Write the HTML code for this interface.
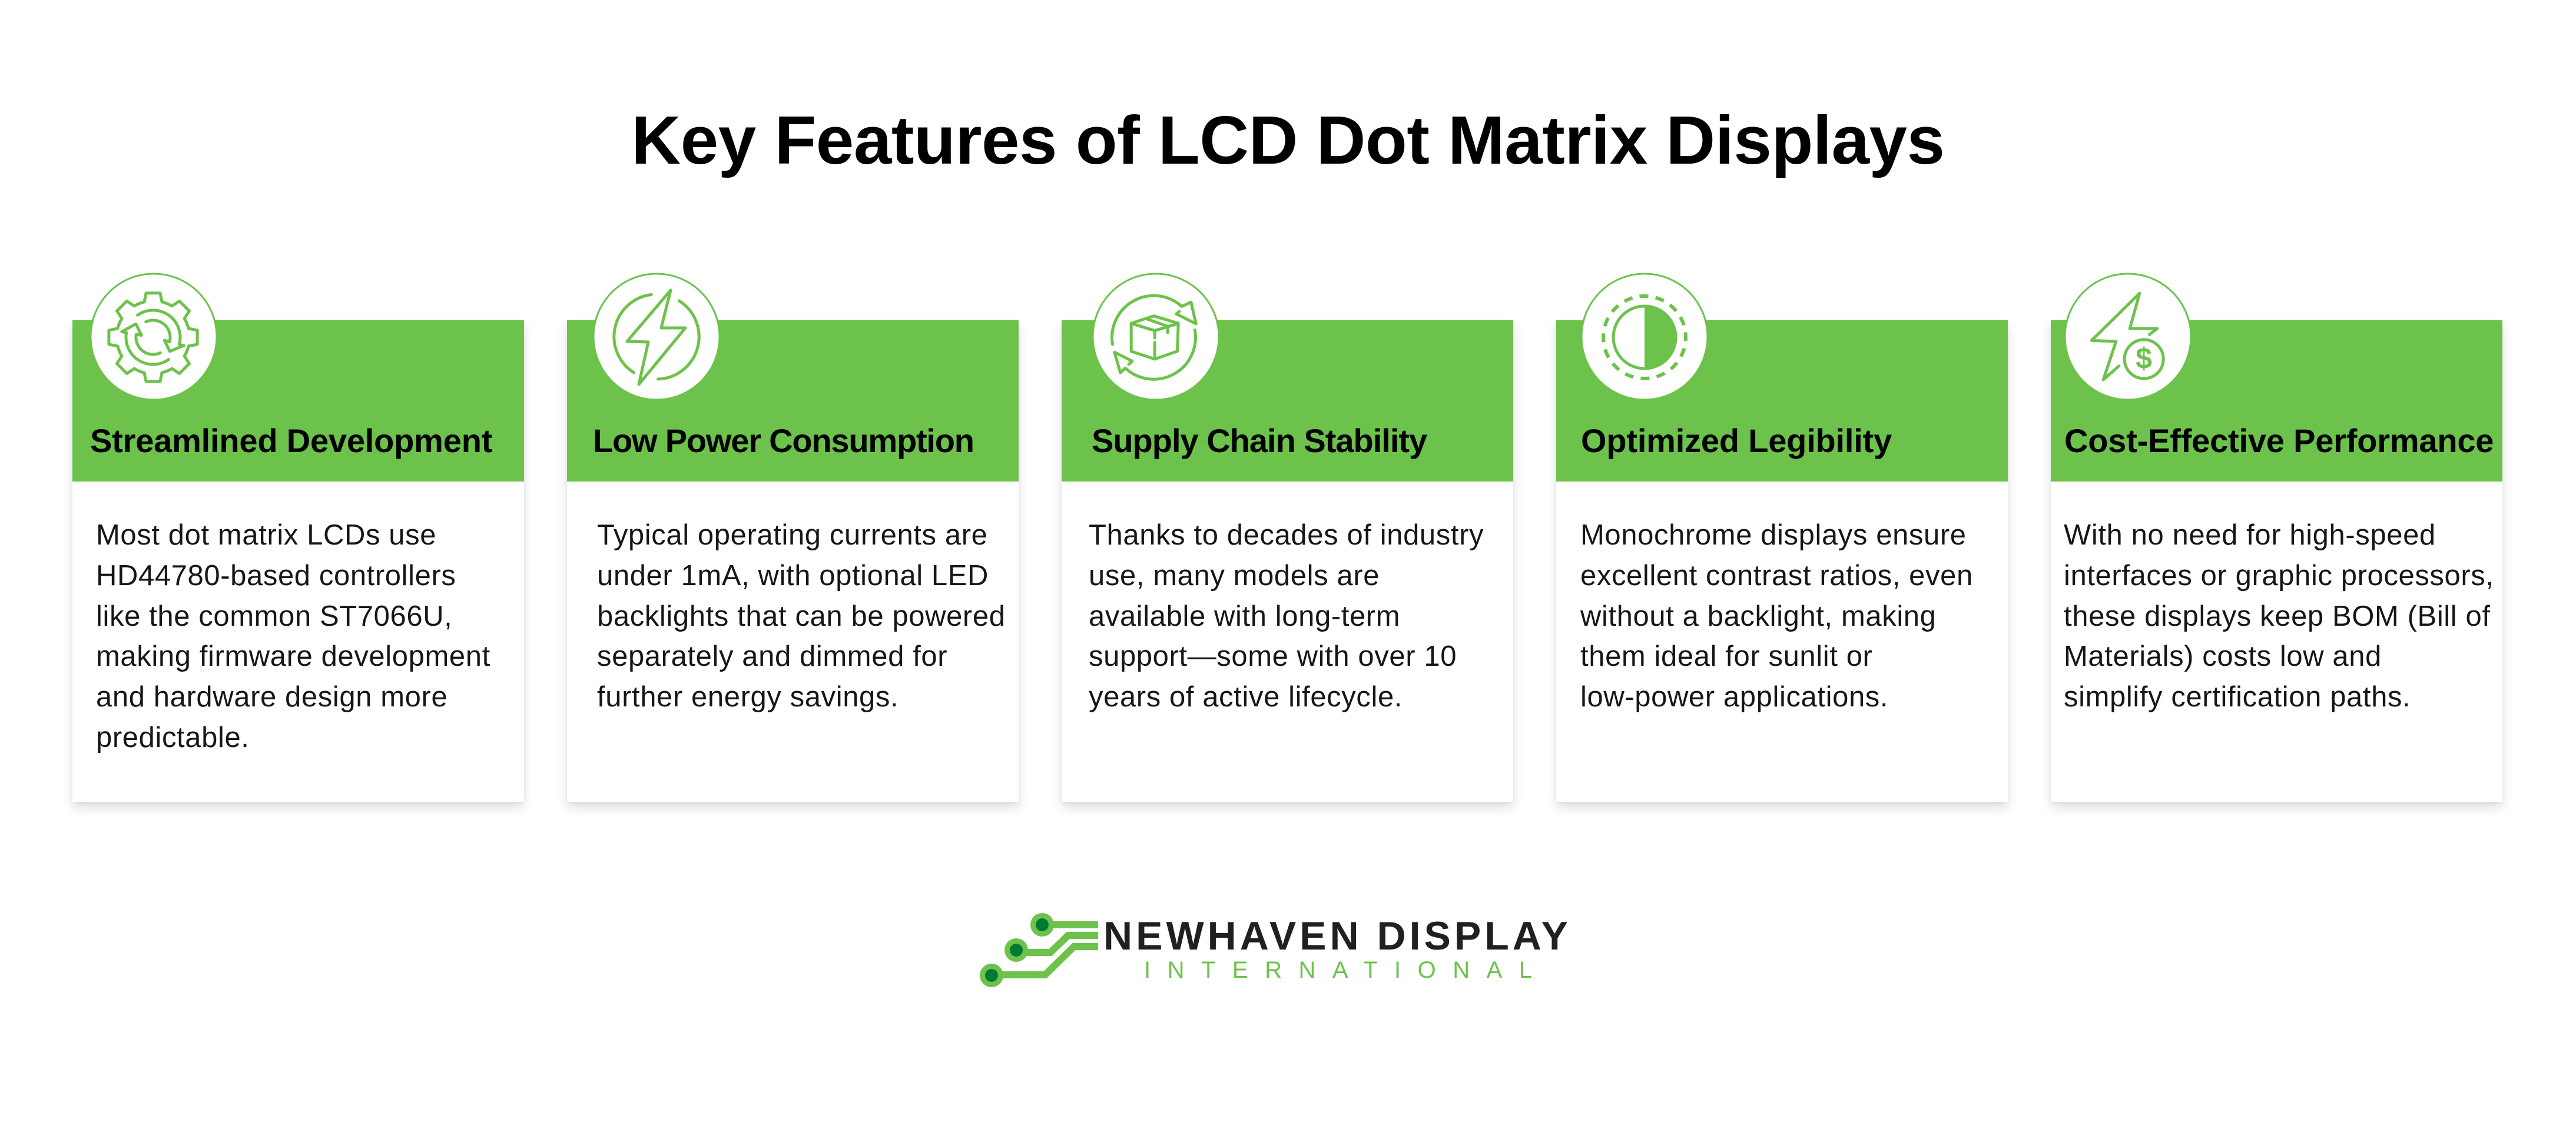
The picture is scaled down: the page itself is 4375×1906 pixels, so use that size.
<!DOCTYPE html>
<html>
<head>
<meta charset="utf-8">
<style>
  html,body{margin:0;padding:0;background:#ffffff;}
  body{width:4375px;height:1906px;position:relative;overflow:hidden;font-family:"Liberation Sans",Arial,sans-serif;}
  .abs{position:absolute;white-space:nowrap;}
  .title{left:0;top:180px;width:4375px;text-align:center;font-size:116px;line-height:116px;font-weight:bold;color:#000;letter-spacing:-0.5px;}
  .card{position:absolute;top:544px;width:767px;height:818px;background:#fff;box-shadow:0 10px 18px rgba(0,0,0,0.13),0 2px 5px rgba(0,0,0,0.05);}
  .band{position:absolute;left:0;top:0;width:767px;height:274px;background:#6dc24b;}
  .h{top:721px;font-size:56px;line-height:56px;font-weight:bold;color:#000;letter-spacing:-0.2px;}
  .b{top:875px;font-size:49px;line-height:68.75px;color:#161616;letter-spacing:0.6px;}
  .logo1{left:1874px;top:1556px;font-size:68px;line-height:68px;font-weight:bold;color:#231f20;letter-spacing:6px;}
  .logo2{left:1943px;top:1628px;font-size:40px;line-height:40px;color:#6dc24b;letter-spacing:28.5px;}
  svg.ov{position:absolute;left:0;top:0;z-index:5;}
  .txt{z-index:6;}
</style>
</head>
<body>

<div class="abs title txt">Key Features of LCD Dot Matrix Displays</div>

<div class="card" style="left:123px;"><div class="band"></div></div>
<div class="card" style="left:963px;"><div class="band"></div></div>
<div class="card" style="left:1803px;"><div class="band"></div></div>
<div class="card" style="left:2643px;"><div class="band"></div></div>
<div class="card" style="left:3483px;"><div class="band"></div></div>

<div class="abs h txt" style="left:153px;">Streamlined Development</div>
<div class="abs h txt" style="left:1007px;letter-spacing:-1.2px;">Low Power Consumption</div>
<div class="abs h txt" style="left:1854px;letter-spacing:-1px;">Supply Chain Stability</div>
<div class="abs h txt" style="left:2685px;">Optimized Legibility</div>
<div class="abs h txt" style="left:3506px;">Cost-Effective Performance</div>

<div class="abs b txt" style="left:163px;">Most dot matrix LCDs use<br>HD44780-based controllers<br>like the common ST7066U,<br>making firmware development<br>and hardware design more<br>predictable.</div>
<div class="abs b txt" style="left:1014px;">Typical operating currents are<br>under 1mA, with optional LED<br>backlights that can be powered<br>separately and dimmed for<br>further energy savings.</div>
<div class="abs b txt" style="left:1849px;">Thanks to decades of industry<br>use, many models are<br>available with long-term<br>support—some with over 10<br>years of active lifecycle.</div>
<div class="abs b txt" style="left:2684px;">Monochrome displays ensure<br>excellent contrast ratios, even<br>without a backlight, making<br>them ideal for sunlit or<br>low-power applications.</div>
<div class="abs b txt" style="left:3505px;">With no need for high-speed<br>interfaces or graphic processors,<br>these displays keep BOM (Bill of<br>Materials) costs low and<br>simplify certification paths.</div>

<div class="abs logo1 txt">NEWHAVEN DISPLAY</div>
<div class="abs logo2 txt">INTERNATIONAL</div>

<svg class="ov" width="4375" height="1906" viewBox="0 0 4375 1906" xmlns="http://www.w3.org/2000/svg">
  <g fill="#ffffff" stroke="#6dc24b" stroke-width="3">
    <circle cx="261" cy="572" r="107"/>
    <circle cx="1115" cy="572" r="107"/>
    <circle cx="1963" cy="572" r="107"/>
    <circle cx="2793" cy="572" r="107"/>
    <circle cx="3614" cy="572" r="107"/>
  </g>

  <g transform="translate(260,573)" fill="none" stroke="#6dc24b" stroke-width="5" stroke-linecap="round" stroke-linejoin="round">
    <path d="M -15 -60.2 L -11.9 -75.1 L 11.9 -75.1 L 15 -60.2 A 62 62 0 0 1 31.9 -53.1"/>
    <path transform="rotate(45)" d="M -15 -60.2 L -11.9 -75.1 L 11.9 -75.1 L 15 -60.2 A 62 62 0 0 1 31.9 -53.1"/>
    <path transform="rotate(90)" d="M -15 -60.2 L -11.9 -75.1 L 11.9 -75.1 L 15 -60.2 A 62 62 0 0 1 31.9 -53.1"/>
    <path transform="rotate(135)" d="M -15 -60.2 L -11.9 -75.1 L 11.9 -75.1 L 15 -60.2 A 62 62 0 0 1 31.9 -53.1"/>
    <path transform="rotate(180)" d="M -15 -60.2 L -11.9 -75.1 L 11.9 -75.1 L 15 -60.2 A 62 62 0 0 1 31.9 -53.1"/>
    <path transform="rotate(225)" d="M -15 -60.2 L -11.9 -75.1 L 11.9 -75.1 L 15 -60.2 A 62 62 0 0 1 31.9 -53.1"/>
    <path transform="rotate(270)" d="M -15 -60.2 L -11.9 -75.1 L 11.9 -75.1 L 15 -60.2 A 62 62 0 0 1 31.9 -53.1"/>
    <path transform="rotate(315)" d="M -15 -60.2 L -11.9 -75.1 L 11.9 -75.1 L 15 -60.2 A 62 62 0 0 1 31.9 -53.1"/>
    <path d="M -26.4 -37.7 A 46 46 0 0 1 44.4 11.9"/>
    <path d="M -12.3 -26.3 A 29 29 0 0 1 28.0 7.5"/>
    <path d="M 28.0 7.5 L 19.3 5.2 L 28.3 23.8 L 52.2 14.0 L 44.4 11.9"/>
    <path d="M 26.4 37.7 A 46 46 0 0 1 -45.3 -8.0"/>
    <path d="M 12.3 26.3 A 29 29 0 0 1 -28.6 -5.0"/>
    <path d="M -28.6 -5.0 L -19.7 -3.5 L -29.2 -22.8 L -53.2 -9.4 L -45.3 -8.0"/>
  </g>

  <g transform="translate(1115,572)" fill="none" stroke="#6dc24b" stroke-width="5" stroke-linecap="round" stroke-linejoin="round">
    <path d="M 24 -79 L -50 8 L -14 9 L -30 81 L 49 -15 L 8 -15 Z"/>
    <path d="M -8.8 -71.5 A 72 72 0 0 0 -38.2 61.1"/>
    <path d="M 38.2 -61.1 A 72 72 0 0 1 2.5 72.0"/>
  </g>

  <g transform="translate(1963,572)" fill="none" stroke="#6dc24b" stroke-width="5" stroke-linecap="round" stroke-linejoin="round">
    <path d="M -41.8 -22.7 L -3.5 -35.3 L 38.2 -22.7 L -1.8 -10.3 Z"/>
    <path d="M -41.8 -22.7 L -41.8 24.7 L -1.8 38 L 36.5 24.7 L 38.2 -22.7"/>
    <path d="M -1.8 -10.3 L -1.8 2"/>
    <path d="M -1.8 10 L -1.8 38"/>
    <path d="M -16 -30.5 L 22 -17"/>
    <path d="M 20 -16 L 20 -7"/>
    <path d="M -73.5 13 A 71 71 0 0 1 44 -51.5 L 59.8 -58.7 L 68.2 -22 L 34.8 -38.7 L 40 -43"/>
    <path d="M 66.3 -11.6 A 71 71 0 0 1 -51.9 53.2 L -60.2 61.3 L -70.2 26.3 L -40.2 41.3 L -46 47"/>
  </g>

  <g transform="translate(2793,572)">
    <circle cx="0" cy="1" r="53" fill="none" stroke="#6dc24b" stroke-width="5"/>
    <path d="M 0 -52 A 53 53 0 0 1 0 54 Z" fill="#6dc24b"/>
    <circle cx="0" cy="1" r="70" fill="none" stroke="#6dc24b" stroke-width="6" stroke-dasharray="15 12.5" transform="rotate(-97 0 1)"/>
  </g>

  <g transform="translate(3614,572)" fill="none" stroke="#6dc24b" stroke-width="5" stroke-linecap="round" stroke-linejoin="round">
    <path d="M -15.2 49.7 L -41.8 73 L -20.2 8 L -61.8 6.3 L 19.8 -73.7 L 3.2 -13.7 L 49.8 -13.7 L 36.5 -3.7"/>
    <circle cx="27.2" cy="38" r="33"/>
  </g>
  <text x="3641" y="626" font-family="Liberation Sans, Arial, sans-serif" font-size="50" font-weight="bold" fill="#6dc24b" text-anchor="middle">$</text>

  <g fill="none" stroke="#6dc24b" stroke-width="12" stroke-linejoin="miter" stroke-linecap="butt">
    <path d="M 1770 1571 L 1865 1571"/>
    <path d="M 1726 1618 L 1784 1618 L 1814 1589 L 1865 1589"/>
    <path d="M 1684 1656 L 1775 1656 L 1824 1608 L 1865 1608"/>
  </g>
  <g fill="#6dc24b">
    <circle cx="1770" cy="1571" r="20"/>
    <circle cx="1726" cy="1614" r="20"/>
    <circle cx="1684" cy="1657" r="20"/>
  </g>
  <g fill="#007a33">
    <circle cx="1770" cy="1571" r="11"/>
    <circle cx="1726" cy="1614" r="11"/>
    <circle cx="1684" cy="1657" r="11"/>
  </g>
</svg>

</body>
</html>
